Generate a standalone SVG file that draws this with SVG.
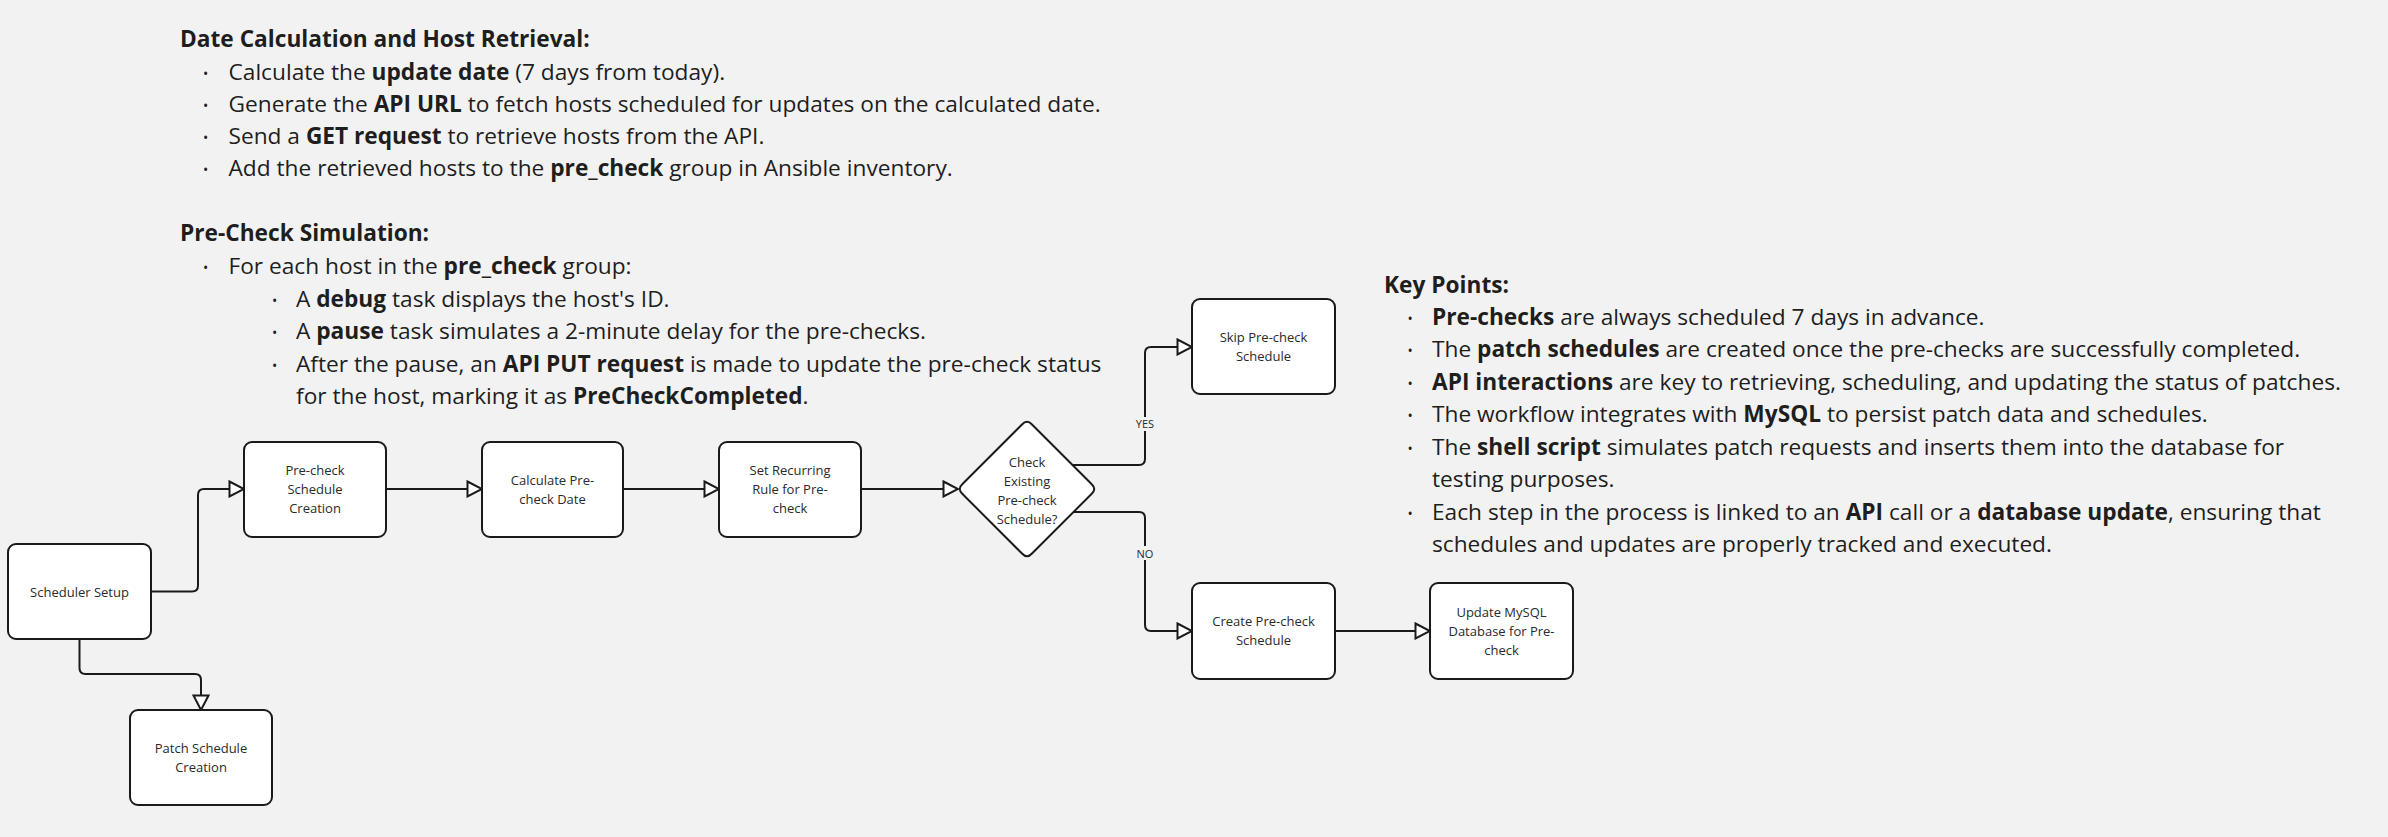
<svg xmlns="http://www.w3.org/2000/svg" width="2388" height="837" viewBox="0 0 2388 837">
<style>
.bg{fill:#f2f2f2}
.t{font-family:"Open Sans","Liberation Sans",sans-serif;font-size:22.7px;fill:#1e1e1e}
.h{font-weight:bold}
.b{font-weight:bold}
.dot{font-family:"Open Sans","Liberation Sans",sans-serif;font-size:14px;fill:#1e1e1e}
.box{fill:#ffffff;stroke:#1a1a1a;stroke-width:2}
.nt{font-family:"Open Sans","Liberation Sans",sans-serif;font-size:13px;fill:#2a2a2a;text-anchor:middle}
.ln{fill:none;stroke:#1a1a1a;stroke-width:2;stroke-linejoin:round}
.lbl{font-family:"Open Sans","Liberation Sans",sans-serif;font-size:11px;fill:#2a2a2a;text-anchor:middle}
</style>
<defs>
<marker id="arr" markerUnits="userSpaceOnUse" markerWidth="18" markerHeight="18" viewBox="0 0 18 18" refX="16" refY="9" orient="auto">
<path d="M1.5,1.5 L16,9 L1.5,16.5 Z" fill="#ffffff" stroke="#1a1a1a" stroke-width="2" stroke-linejoin="miter"/>
</marker>
</defs>
<rect class="bg" x="0" y="0" width="2388" height="837"/>

<g id="notes-date">
<text class="t h" x="180" y="47">Date Calculation and Host Retrieval:</text>
<text class="dot" x="203" y="79">•</text>
<text class="t" x="228.5" y="80">Calculate the <tspan class="b">update date</tspan> (7 days from today).</text>
<text class="dot" x="203" y="111">•</text>
<text class="t" x="228.5" y="112">Generate the <tspan class="b">API URL</tspan> to fetch hosts scheduled for updates on the calculated date.</text>
<text class="dot" x="203" y="143">•</text>
<text class="t" x="228.5" y="144">Send a <tspan class="b">GET request</tspan> to retrieve hosts from the API.</text>
<text class="dot" x="203" y="175">•</text>
<text class="t" x="228.5" y="176">Add the retrieved hosts to the <tspan class="b">pre_check</tspan> group in Ansible inventory.</text>
</g>

<g id="notes-precheck">
<text class="t h" x="180" y="241">Pre-Check Simulation:</text>
<text class="dot" x="203" y="273">•</text>
<text class="t" x="228.5" y="274">For each host in the <tspan class="b">pre_check</tspan> group:</text>
<text class="dot" x="272" y="306">•</text>
<text class="t" x="296" y="307">A <tspan class="b">debug</tspan> task displays the host's ID.</text>
<text class="dot" x="272" y="338">•</text>
<text class="t" x="296" y="339">A <tspan class="b">pause</tspan> task simulates a 2-minute delay for the pre-checks.</text>
<text class="dot" x="272" y="371">•</text>
<text class="t" x="296" y="372">After the pause, an <tspan class="b">API PUT request</tspan> is made to update the pre-check status</text>
<text class="t" x="296" y="404">for the host, marking it as <tspan class="b">PreCheckCompleted</tspan>.</text>
</g>

<g id="notes-keypoints">
<text class="t h" x="1384" y="293">Key Points:</text>
<text class="dot" x="1407.5" y="324">•</text>
<text class="t" x="1432" y="325"><tspan class="b">Pre-checks</tspan> are always scheduled 7 days in advance.</text>
<text class="dot" x="1407.5" y="356">•</text>
<text class="t" x="1432" y="357">The <tspan class="b">patch schedules</tspan> are created once the pre-checks are successfully completed.</text>
<text class="dot" x="1407.5" y="389">•</text>
<text class="t" x="1432" y="390"><tspan class="b">API interactions</tspan> are key to retrieving, scheduling, and updating the status of patches.</text>
<text class="dot" x="1407.5" y="421">•</text>
<text class="t" x="1432" y="422">The workflow integrates with <tspan class="b">MySQL</tspan> to persist patch data and schedules.</text>
<text class="dot" x="1407.5" y="454">•</text>
<text class="t" x="1432" y="455">The <tspan class="b">shell script</tspan> simulates patch requests and inserts them into the database for</text>
<text class="t" x="1432" y="487">testing purposes.</text>
<text class="dot" x="1407.5" y="519">•</text>
<text class="t" x="1432" y="520">Each step in the process is linked to an <tspan class="b">API</tspan> call or a <tspan class="b">database update</tspan>, ensuring that</text>
<text class="t" x="1432" y="552">schedules and updates are properly tracked and executed.</text>
</g>

<g id="connectors">
<path class="ln" marker-end="url(#arr)" d="M151,591.5 H192 Q198,591.5 198,585.5 V495 Q198,489 204,489 H244"/>
<path class="ln" marker-end="url(#arr)" d="M79.5,639 V668 Q79.5,674 85.5,674 H195 Q201,674 201,680 V710"/>
<path class="ln" marker-end="url(#arr)" d="M386,489 H482"/>
<path class="ln" marker-end="url(#arr)" d="M623,489 H719"/>
<path class="ln" marker-end="url(#arr)" d="M861,489 H958"/>
<path class="ln" marker-end="url(#arr)" d="M1073,465 H1139 Q1145,465 1145,459 V353 Q1145,347 1151,347 H1192"/>
<path class="ln" marker-end="url(#arr)" d="M1073,512 H1139 Q1145,512 1145,518 V625 Q1145,631 1151,631 H1192"/>
<path class="ln" marker-end="url(#arr)" d="M1335,631 H1430"/>
<rect class="bg" x="1133" y="417" width="24" height="14"/>
<text class="lbl" x="1145" y="428">YES</text>
<rect class="bg" x="1136" y="546" width="18" height="14"/>
<text class="lbl" x="1145" y="558">NO</text>
</g>

<g id="scheduler-setup">
<rect class="box" x="8" y="544" width="143" height="95" rx="8"/>
<text class="nt" x="79.5" y="596.5">Scheduler Setup</text>
</g>
<g id="patch-schedule-creation">
<rect class="box" x="130" y="710" width="142" height="95" rx="8"/>
<text class="nt" x="201" y="752.5">Patch Schedule</text>
<text class="nt" x="201" y="771.5">Creation</text>
</g>
<g id="precheck-schedule-creation">
<rect class="box" x="244" y="442" width="142" height="95" rx="8"/>
<text class="nt" x="315" y="475">Pre-check</text>
<text class="nt" x="315" y="494">Schedule</text>
<text class="nt" x="315" y="513">Creation</text>
</g>
<g id="calculate-precheck-date">
<rect class="box" x="482" y="442" width="141" height="95" rx="8"/>
<text class="nt" x="552.5" y="484.5">Calculate Pre-</text>
<text class="nt" x="552.5" y="503.5">check Date</text>
</g>
<g id="set-recurring-rule">
<rect class="box" x="719" y="442" width="142" height="95" rx="8"/>
<text class="nt" x="790" y="475">Set Recurring</text>
<text class="nt" x="790" y="494">Rule for Pre-</text>
<text class="nt" x="790" y="513">check</text>
</g>
<g id="check-existing">
<path class="box" d="M1022,424.5 Q1027,419 1032,424.5 L1091.5,484 Q1097,489 1091.5,494 L1032,553.5 Q1027,559 1022,553.5 L962.5,494 Q957,489 962.5,484 Z"/>
<text class="nt" x="1027" y="467">Check</text>
<text class="nt" x="1027" y="486">Existing</text>
<text class="nt" x="1027" y="505">Pre-check</text>
<text class="nt" x="1027" y="524">Schedule?</text>
</g>
<g id="skip-precheck">
<rect class="box" x="1192" y="299" width="143" height="95" rx="8"/>
<text class="nt" x="1263.5" y="342">Skip Pre-check</text>
<text class="nt" x="1263.5" y="361">Schedule</text>
</g>
<g id="create-precheck">
<rect class="box" x="1192" y="583" width="143" height="96" rx="8"/>
<text class="nt" x="1263.5" y="626">Create Pre-check</text>
<text class="nt" x="1263.5" y="645">Schedule</text>
</g>
<g id="update-mysql">
<rect class="box" x="1430" y="583" width="143" height="96" rx="8"/>
<text class="nt" x="1501.5" y="616.5">Update MySQL</text>
<text class="nt" x="1501.5" y="635.5">Database for Pre-</text>
<text class="nt" x="1501.5" y="654.5">check</text>
</g>
</svg>
